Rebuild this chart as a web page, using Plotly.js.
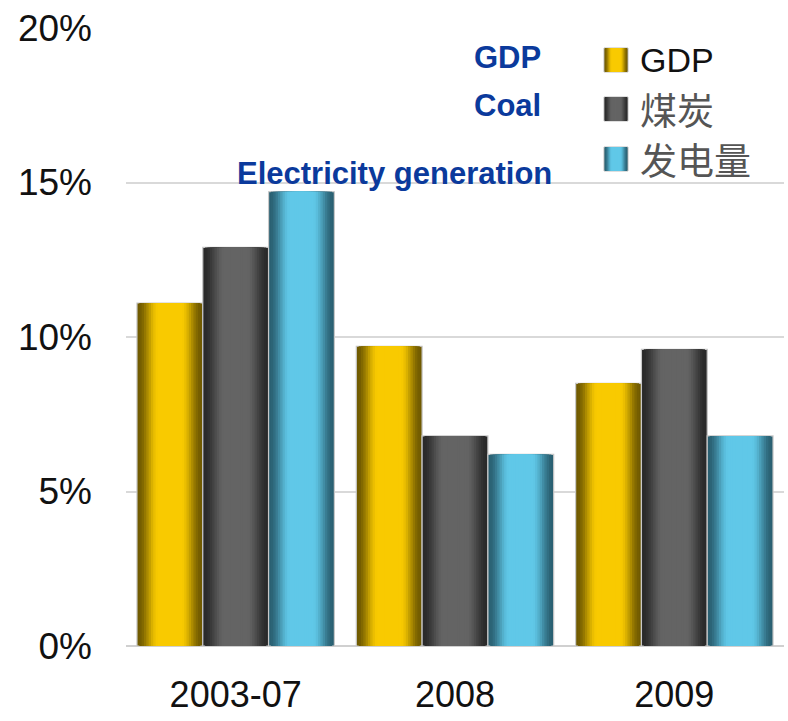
<!DOCTYPE html>
<html>
<head>
<meta charset="utf-8">
<script src="https://cdn.plot.ly/plotly-3.0.1.min.js"></script>
<style>html,body{margin:0;padding:0;background:#fff;}#chart{width:788px;height:721px;}</style>
</head>
<body>
<div id="chart"></div>
<script>
// ---- data ----
const categories = ['2003-07', '2008', '2009'];
const gdp  = [11.1, 9.7, 8.5];
const coal = [12.9, 6.8, 9.6];
const elec = [14.7, 6.2, 6.8];
const seriesNames = ['GDP', '煤炭', '发电量'];
const yTicks = [0, 5, 10, 15, 20];
const yTickLabels = ['0%', '5%', '10%', '15%', '20%'];
const notes = ['GDP', 'Coal', 'Electricity generation'];

// ---- styling ----
const BAR_W = 0.3;
const baseOffsets = [-0.45, -0.15, 0.15];
const edgeCols = [[112, 90, 0], [42, 42, 42], [42, 96, 114]];
const midCols  = [[249, 202, 0], [100, 100, 100], [96, 200, 232]];
function mix(a, b, t) {
  return 'rgb(' + a.map((v, i) => Math.round(v + (b[i] - v) * t)).join(',') + ')';
}
const NL = 14;
function shadeLayers(s) {
  const out = [];
  for (let k = 0; k < NL; k++) {
    const frac = 1 - k * (0.92 / (NL - 1));
    let t = Math.min(1, (1 - frac) / 0.62);
    t = t * t * (3 - 2 * t);
    out.push([frac, mix(edgeCols[s], midCols[s], t)]);
  }
  return out;
}
const seriesData = [gdp, coal, elec];

const traces = [];
seriesData.forEach((vals, s) => {
  shadeLayers(s).forEach(([frac, col], k) => {
    const w = BAR_W * frac;
    traces.push({
      type: 'bar',
      x: categories,
      y: vals,
      name: seriesNames[s],
      showlegend: false,
      width: w,
      offset: baseOffsets[s] + (BAR_W - w) / 2,
      marker: {
        color: col,
        line: k === 0 ? {color: '#c8c8c8', width: 1.2} : {width: 0}
      },
      hoverinfo: k === 0 ? 'x+y+name' : 'skip'
    });
  });
});

// custom legend (paper coordinates), plot area y 28..646 px, x 126..784 px
const plotL = 126, plotR = 784, plotT = 28, plotB = 646;
const px2x = p => (p - plotL) / (plotR - plotL);
const px2y = p => (plotB - p) / (plotB - plotT);
const legendRows = [60, 109, 159];
const shapes = [];
const annotations = [];
legendRows.forEach((cy, s) => {
  shadeLayers(s).forEach(([f, col], k) => {
    const half = 12 * f;
    shapes.push({
      type: 'rect', xref: 'paper', yref: 'paper',
      x0: px2x(616 - half), x1: px2x(616 + half),
      y0: px2y(cy + 12), y1: px2y(cy - 12),
      fillcolor: col,
      line: k === 0 ? {color: '#bdbdbd', width: 1} : {width: 0}
    });
  });
  annotations.push({
    xref: 'paper', yref: 'paper', x: px2x(638), y: px2y(cy),
    xanchor: 'left', yanchor: 'middle', showarrow: false,
    text: seriesNames[s],
    font: {family: s === 0 ? 'Liberation Sans, Arial, sans-serif' : 'Noto Sans CJK SC, sans-serif',
           size: s === 0 ? 34 : 37, color: s === 0 ? '#111111' : '#555555'}
  });
});
// blue English notes
const notePos = [[472, 57], [472, 105], [235, 173]];
notes.forEach((t, i) => {
  annotations.push({
    xref: 'paper', yref: 'paper', x: px2x(notePos[i][0]), y: px2y(notePos[i][1]),
    xanchor: 'left', yanchor: 'middle', showarrow: false,
    text: '<b>' + t + '</b>',
    font: {family: 'Liberation Sans, Arial, sans-serif', size: 31, color: '#0b3a9c'}
  });
});

const layout = {
  width: 788, height: 721,
  margin: {l: plotL, r: 788 - plotR, t: plotT, b: 721 - plotB},
  paper_bgcolor: '#ffffff', plot_bgcolor: '#ffffff',
  barmode: 'overlay',
  showlegend: false,
  font: {family: 'Liberation Sans, Arial, sans-serif', color: '#111111'},
  xaxis: {
    type: 'category',
    tickvals: categories,
    ticktext: categories,
    tickfont: {size: 36, color: '#111111'},
    showgrid: false, zeroline: false, showline: false,
    ticks: '', ticklabelstandoff: 24,
    range: [-0.5, 2.5]
  },
  yaxis: {
    range: [0, 20],
    tickvals: yTicks,
    ticktext: yTickLabels,
    tickfont: {size: 37, color: '#111111'},
    showgrid: true, gridcolor: '#d9d9d9', gridwidth: 2,
    zeroline: true, zerolinecolor: '#d0d0d0', zerolinewidth: 2,
    showline: false, ticks: '', ticklabelstandoff: 33
  },
  shapes: shapes,
  annotations: annotations
};

Plotly.newPlot('chart', traces, layout, {displayModeBar: false, staticPlot: true});
</script>
</body>
</html>
